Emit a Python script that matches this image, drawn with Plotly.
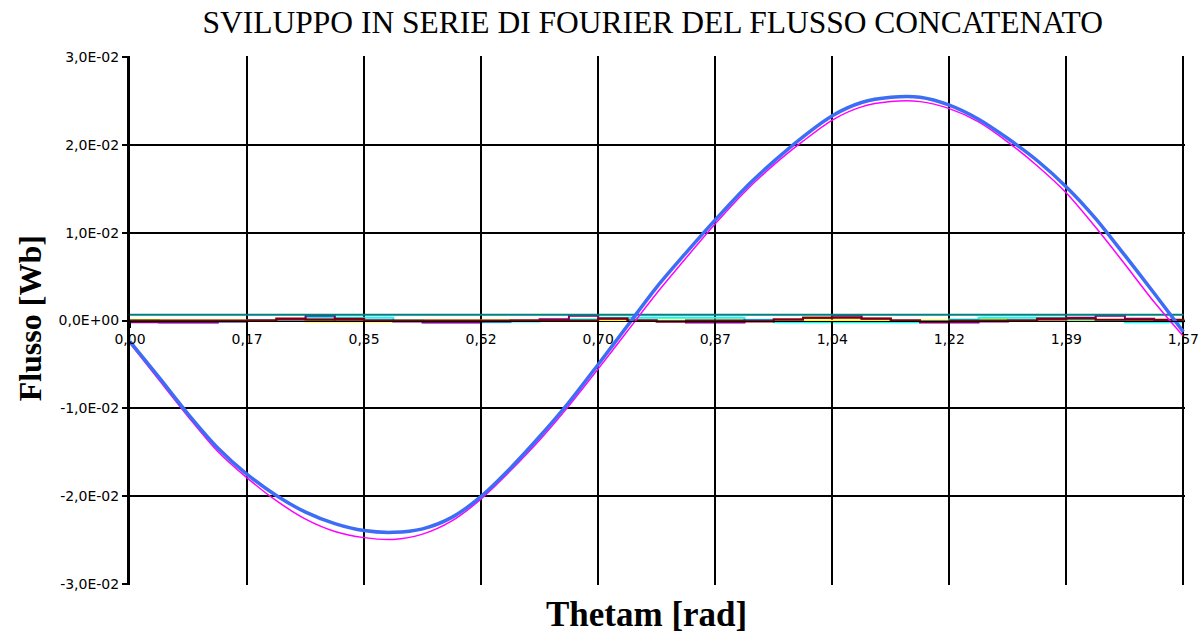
import numpy as np
import plotly.graph_objects as go

# ---------------- data ----------------
theta = np.linspace(0, np.pi / 2, 37)          # Thetam [rad], 37 samples

flusso_tot = [-0.0024, -0.0065, -0.0107, -0.0145, -0.0175, -0.0199, -0.0218, -0.0231, -0.0239,
              -0.0241, -0.0237, -0.0224, -0.0200, -0.0168, -0.0132, -0.0093, -0.0050, -0.0006,
              0.0038, 0.0077, 0.01145, 0.0150, 0.0181, 0.0209, 0.0233, 0.0248, 0.0254, 0.0254,
              0.0245, 0.0229, 0.0207, 0.0182, 0.0152, 0.0116, 0.0074, 0.0031, -0.0013]

armonica_1 = [-0.0026, -0.0068, -0.0110, -0.0149, -0.0179, -0.0205, -0.0226, -0.0240, -0.0247,
              -0.0249, -0.0243, -0.0228, -0.0203, -0.0171, -0.0136, -0.0097, -0.0055, -0.0012,
              0.0031, 0.0071, 0.0110, 0.0146, 0.0177, 0.0204, 0.0228, 0.0243, 0.0249, 0.0249,
              0.0241, 0.0226, 0.0203, 0.0176, 0.0145, 0.0106, 0.0064, 0.0021, -0.0018]

# small higher-order components (units of 1e-4 Wb)
armonica_y = [0.8, 0, 0, 0, 0, 0, -1.1, -1.1, -1.1, 0, 0, 0, 0, 0, 0.8, 0.8, 0, 0, 0,
              0, 0, 0, 0, 0, 0, 0, 0, 0, 0, 1.5, 0, 0, 0, 0, 0, 0, 0]
armonica_c = [0, -1.9, -1.9, -1, 0, 1, 3, 3, 3, 0, -1.9, -1.9, -1.9, -1, 0, 1, 3, 3, 3,
              3, 3, 0.8, -1.9, -1.9, -1.9, -1.9, -1.9, -1, 1, 3, 3, 3, 1, 0, -1.9, -1.9, 0]
armonica_p = [-1.9, -2.3, -2.3, -1.1, 0, 1, 5.3, 1, 0, -1, -2.3, -2.3, -1, 0, 1.5, 5.3, 2, 0, -1,
              -2.3, -2.3, 0, 1, 3, 5.3, 2, 0, -2.3, -2.3, -1, 0, 1, 3, 5.3, 2, 0, 0]
armonica_r = [0, 0, 0, 0, 0, 2.3, 1, 2, 0, 0, 0, 0, 0, 0, 0, 0, 2.3, 0, -1.1,
              0, 0, -1.1, 1, 3, 3, 2.3, 0, -1.1, 0, 0, 0, 2.3, 2.3, 0.8, 0.8, 0.8, 0]
armonica_t = [6.5] * 37

xtick_text = ["0,00", "0,17", "0,35", "0,52", "0,70", "0,87", "1,04", "1,22", "1,39", "1,57"]
ytick_vals = [-0.03, -0.02, -0.01, 0.0, 0.01, 0.02, 0.03]
ytick_text = ["-3,0E-02", "-2,0E-02", "-1,0E-02", "0,0E+00", "1,0E-02", "2,0E-02", "3,0E-02"]

# ---------------- figure ----------------
fig = go.Figure()

small = [(armonica_y, "#FFFF00"), (armonica_c, "#00FFFF"), (armonica_p, "#800080"),
         (armonica_r, "#800000"), (armonica_t, "#008080")]
for vals, col in small:
    fig.add_trace(go.Scatter(x=theta, y=[v * 1e-4 for v in vals], mode="lines",
                             line=dict(color=col, width=2, shape="hv"),
                             showlegend=False, hoverinfo="skip"))

fig.add_trace(go.Scatter(x=theta, y=armonica_1, mode="lines",
                         line=dict(color="#FF00FF", width=1.5, shape="spline", smoothing=0.8),
                         showlegend=False))
fig.add_trace(go.Scatter(x=theta, y=flusso_tot, mode="lines",
                         line=dict(color="#3D6CF5", width=3.5, shape="spline", smoothing=0.8),
                         showlegend=False))

xmax = np.pi / 2
xpad = xmax * 0.0015
ypad = 0.06 * 0.0015
fig.update_layout(
    width=1200, height=634,
    margin=dict(l=130, r=15, t=56, b=49),
    paper_bgcolor="white", plot_bgcolor="white",
    title=dict(text="SVILUPPO IN SERIE DI FOURIER DEL FLUSSO CONCATENATO",
               font=dict(family="Liberation Serif", size=31.5, color="black"),
               x=0.544, xref="container", xanchor="center",
               y=1 - 22 / 634, yref="container", yanchor="middle", automargin=False),
    xaxis=dict(range=[0, xmax + xpad], tickmode="array",
               tickvals=list(np.linspace(0, xmax, 10)), ticktext=xtick_text,
               anchor="free", position=0.5, automargin=False,
               showline=True, linecolor="black", linewidth=1,
               ticks="outside", ticklen=6, tickwidth=2, tickcolor="black",
               showgrid=True, gridcolor="black", gridwidth=2, zeroline=False,
               tickfont=dict(family="DejaVu Sans", size=14, color="black")),
    yaxis=dict(range=[-0.03 - ypad, 0.03 + ypad], tickmode="array",
               tickvals=ytick_vals, ticktext=ytick_text, automargin=False,
               showline=True, linecolor="black", linewidth=3,
               ticks="outside", ticklen=5, tickwidth=2, tickcolor="black",
               showgrid=True, gridcolor="black", gridwidth=1.5, zeroline=False,
               tickfont=dict(family="DejaVu Sans", size=14, color="black")),
    annotations=[
        dict(text="<b>Thetam [rad]</b>", xref="paper", yref="paper", x=0.49, y=-0.055,
             xanchor="center", yanchor="middle", showarrow=False,
             font=dict(family="Liberation Serif", size=35, color="black")),
        dict(text="<b>Flusso [Wb]</b>", xref="paper", yref="paper", x=-0.0948, y=0.504,
             xanchor="center", yanchor="middle", showarrow=False, textangle=-90,
             font=dict(family="Liberation Serif", size=32, color="black")),
    ],
)

fig.write_html("out.html", config={"displayModeBar": False},
               post_script="document.body.style.margin='0';document.body.style.overflow='hidden';")
